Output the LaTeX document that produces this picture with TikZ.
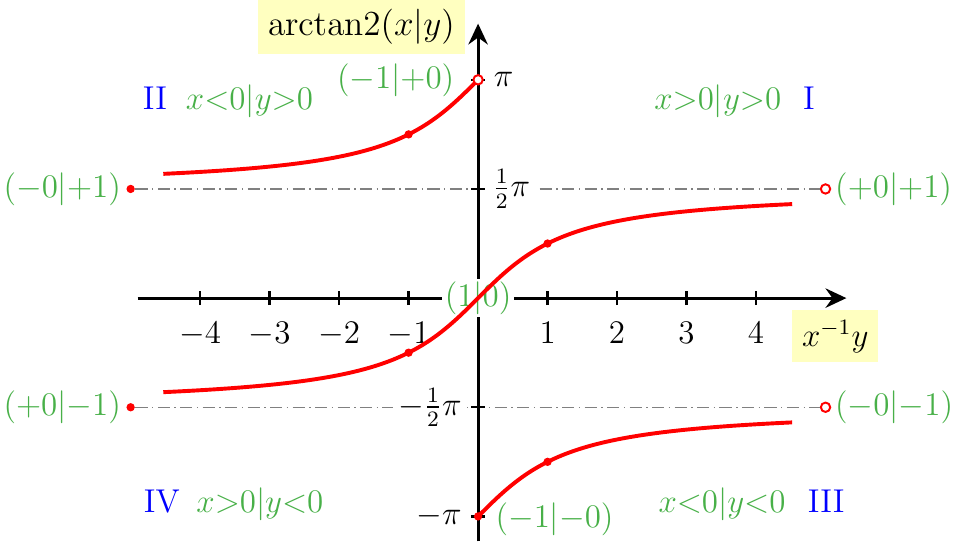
\documentclass[tikz,border=0pt]{standalone}
\usepackage{amsmath}
\usetikzlibrary{arrows.meta}
\definecolor{ptgreen}{RGB}{72,176,72}
\definecolor{boxyellow}{RGB}{255,255,192}
\begin{document}
\begin{tikzpicture}[x=1cm,y=1cm,
  lbl/.style={font=\large, scale=1.125},
  ptlabel/.style={lbl, text=ptgreen},
  quadnum/.style={lbl, text=blue, anchor=base},
  cond/.style={lbl, text=ptgreen, anchor=base},
  axisline/.style={line width=1.2pt, -{Stealth[length=3mm,width=2.8mm,inset=1mm]}},
  tickline/.style={line width=1pt},
  ticklab/.style={lbl, fill=white, inner sep=2pt},
  curve/.style={red, line width=1.6pt},
  guide/.style={gray, line width=0.5pt, dash pattern=on 5pt off 1.8pt on 0.6pt off 1.8pt},
  fdot/.style={circle, fill=red, inner sep=0pt, minimum size=1.2mm},
  odot/.style={circle, draw=red, fill=white, line width=0.8pt, inner sep=0pt, minimum size=1.35mm},
  axlabel/.style={lbl, fill=boxyellow, inner sep=3.5pt}
]
\useasboundingbox (-6.88,-3.626) rectangle (6.935,4.29);

% guide lines
\node[fdot] (pL1) at (-5,{pi/2}) {};
\node[odot] (pR1) at (5,{pi/2}) {};
\node[fdot] (pL2) at (-5,{-pi/2}) {};
\node[odot] (pR2) at (5,{-pi/2}) {};
\draw[guide] (pL1) -- (pR1);
\draw[guide] (pL2) -- (pR2);

% axes
\coordinate (xs) at (-4.9,0);
\coordinate (xe) at (5.3,0);
\coordinate (ys) at (0,-3.5);
\coordinate (ye) at (0,3.95);
\draw[axisline] (xs) -- (xe);
\draw[axisline] (ys) -- (ye);

% x ticks
\foreach \i in {-4,-3,-2,-1,1,2,3,4} {
  \draw[tickline] (\i,-0.1) -- (\i,0.1);
  \node[lbl, anchor=base] (tx\i) at (\i,-0.65) {$\i$};
}
% y ticks
\foreach \v in {1,0.5,-0.5,-1} {
  \draw[tickline] (-0.1,{\v*pi}) -- (0.1,{\v*pi});
}
\node[ticklab, anchor=west] (tyA) at (0.14,{pi}) {$\pi$};
\node[ticklab, anchor=west] (tyB) at (0.12,{pi/2}) {$\frac{1}{2}\pi$};
\node[ticklab, anchor=east] (tyC) at (-0.15,{-pi/2}) {$-\frac{1}{2}\pi$};
\node[ticklab, anchor=east] (tyD) at (-0.15,{-pi}) {$-\pi$};

% origin label
\node[lbl, fill=white, text=ptgreen, inner sep=1pt] (orig) at (0,0) {$(1|0)$};

% curves
\draw[curve] plot[domain=-4.53:4.52, samples=120, smooth] (\x,{rad(atan(\x))});
\draw[curve] plot[domain=-4.53:0, samples=80, smooth] (\x,{rad(atan(\x))+pi});
\draw[curve] plot[domain=0:4.52, samples=80, smooth] (\x,{rad(atan(\x))-pi});

% points on curves
\node[fdot] (q1) at (-1,{3*pi/4}) {};
\node[fdot] (q2) at (1,{pi/4}) {};
\node[fdot] (q3) at (-1,{-pi/4}) {};
\node[fdot] (q4) at (1,{-3*pi/4}) {};
\node[odot] (ptop) at (0,{pi}) {};
\node[fdot] (pbot) at (0,{-pi}) {};

% point labels
\node[ptlabel, anchor=east, xshift=-0.18cm] (lt) at (ptop) {$(-1|{+0})$};
\node[ptlabel, anchor=west, xshift=0.1cm, yshift=-0.03cm] (lb) at (pbot) {$(-1|{-0})$};
\node[ptlabel, anchor=east] (l1) at (pL1) {$(-0|{+1})$};
\node[ptlabel, anchor=west] (r1) at (pR1) {$(+0|{+1})$};
\node[ptlabel, anchor=east] (l2) at (pL2) {$(+0|{-1})$};
\node[ptlabel, anchor=west] (r2) at (pR2) {$(-0|{-1})$};

% quadrant labels
\node[quadnum] (qII) at (-4.65,2.71) {II};
\node[cond] (cII) at (-3.29,2.71) {$x{<}0|y{>}0$};
\node[cond] (cI) at (3.45,2.71) {$x{>}0|y{>}0$};
\node[quadnum] (qI) at (4.76,2.71) {I};
\node[quadnum] (qIV) at (-4.55,-3.09) {IV};
\node[cond] (cIV) at (-3.14,-3.09) {$x{>}0|y{<}0$};
\node[cond] (cIII) at (3.51,-3.09) {$x{<}0|y{<}0$};
\node[quadnum] (qIII) at (5.01,-3.09) {III};

% axis labels
\node[axlabel, font=\Large, scale=1/1.125, inner sep=4pt] (ylab) at (-1.68,3.9) {$\mathrm{arctan2}(x|y)$};
\node[axlabel] (xlab) at (5.14,-0.55) {$x^{-1}y$};
\end{tikzpicture}
\end{document}
